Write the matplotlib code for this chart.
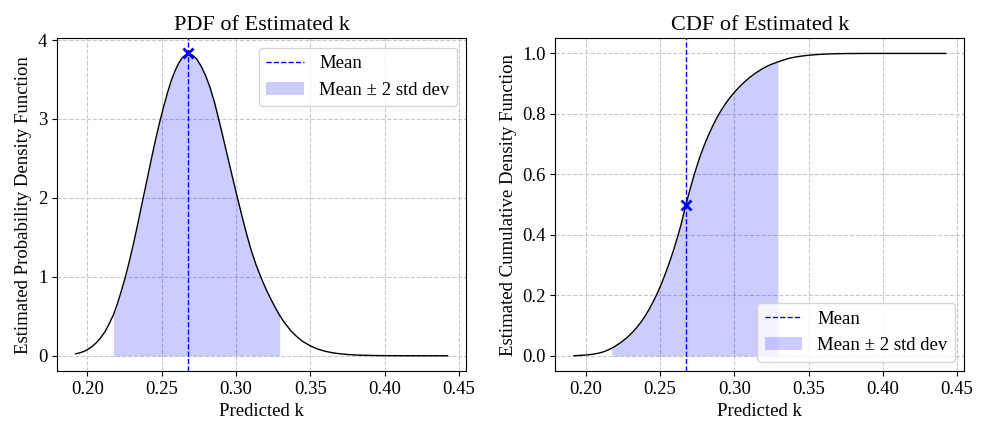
import numpy as np
import matplotlib
matplotlib.use("Agg")
import matplotlib.pyplot as plt

plt.rcParams["font.family"] = "serif"
plt.rcParams["font.serif"] = ["Liberation Serif", "DejaVu Serif"]

# values (same k grid for both curves)
k_grid = [0.1921, 0.195, 0.198, 0.200, 0.203, 0.206, 0.209, 0.212, 0.2145, 0.2175,
          0.2200, 0.2225, 0.2253, 0.2280, 0.2310, 0.2340, 0.2372, 0.2400, 0.2430, 0.2460,
          0.2489, 0.2515, 0.2540, 0.2565, 0.2590, 0.2615, 0.2640, 0.2675, 0.2705, 0.2735,
          0.2765, 0.2795, 0.2825, 0.2855, 0.2883, 0.2910, 0.2940, 0.2970, 0.3007, 0.3040,
          0.3070, 0.3100, 0.3135, 0.3175, 0.3210, 0.3250, 0.3294, 0.3330, 0.3370, 0.3410,
          0.3450, 0.3500, 0.3550, 0.3600, 0.3650, 0.3700, 0.3760, 0.3830, 0.3900, 0.4000,
          0.4100, 0.4250, 0.4423]
pdf_vals = [0.025, 0.038, 0.058, 0.078, 0.115, 0.165, 0.23, 0.31, 0.40, 0.52,
            0.65, 0.80, 0.98, 1.18, 1.42, 1.68, 1.97, 2.22, 2.49, 2.75,
            2.98, 3.17, 3.34, 3.49, 3.61, 3.71, 3.78, 3.83, 3.81, 3.76,
            3.67, 3.55, 3.40, 3.21, 3.00, 2.79, 2.55, 2.31, 2.02, 1.77,
            1.55, 1.35, 1.15, 0.96, 0.81, 0.66, 0.51, 0.41, 0.315, 0.24,
            0.18, 0.125, 0.085, 0.057, 0.038, 0.025, 0.015, 0.008, 0.0045, 0.002,
            0.001, 0.0003, 0.0]
cdf_vals = [0.000, 0.001, 0.0018, 0.0025, 0.004, 0.006, 0.009, 0.013, 0.018, 0.025,
            0.032, 0.040, 0.050, 0.061, 0.075, 0.091, 0.111, 0.131, 0.156, 0.184,
            0.214, 0.244, 0.276, 0.310, 0.347, 0.387, 0.430, 0.500, 0.555, 0.606,
            0.652, 0.692, 0.728, 0.760, 0.787, 0.810, 0.833, 0.853, 0.875, 0.892,
            0.906, 0.919, 0.932, 0.945, 0.955, 0.964, 0.972, 0.978, 0.984, 0.988,
            0.991, 0.994, 0.996, 0.9975, 0.9985, 0.9992, 0.9996, 0.9998, 1.000, 1.000,
            1.000, 1.000, 1.000]
k_mean = 0.2675
k_lo = 0.2175   # mean - 2 std
k_hi = 0.3294   # mean + 2 std
pdf_at_mean = 3.83
cdf_at_mean = 0.50

x = np.array(k_grid)
band = (x >= k_lo) & (x <= k_hi)

fig, axes = plt.subplots(1, 2, figsize=(9.84, 4.21), dpi=100)
fig.subplots_adjust(left=0.058, right=0.98, bottom=0.119, top=0.909, wspace=0.218)

panels = [
    (axes[0], pdf_vals, pdf_at_mean, "PDF of Estimated k",
     "Estimated Probability Density Function", "upper right"),
    (axes[1], cdf_vals, cdf_at_mean, "CDF of Estimated k",
     "Estimated Cumulative Density Function", "lower right"),
]

for ax, vals, y_mean, title, ylabel, loc in panels:
    y = np.array(vals)
    ax.fill_between(x, 0, y, where=band, color="blue", alpha=0.2, linewidth=0,
                    label="Mean \u00b1 2 std dev")
    ax.plot(x, y, color="k", linewidth=1.0)
    ax.axvline(k_mean, color="blue", linestyle="--", linewidth=1.0, label="Mean")
    ax.plot([k_mean], [y_mean], marker="x", color="blue", markersize=7, markeredgewidth=2)
    ax.grid(True, linestyle="--", color="#c8c8c8", linewidth=0.8)
    ax.set_axisbelow(True)
    ax.set_title(title, fontsize=16)
    ax.set_xlabel("Predicted k", fontsize=13.5)
    ax.set_ylabel(ylabel, fontsize=13.5)
    ax.tick_params(labelsize=13.5)
    ax.set_xticks([0.20, 0.25, 0.30, 0.35, 0.40, 0.45])
    handles, labels = ax.get_legend_handles_labels()
    order = [labels.index("Mean"), labels.index("Mean \u00b1 2 std dev")]
    ax.legend([handles[i] for i in order], [labels[i] for i in order],
              loc=loc, fontsize=13.5)

axes[0].set_yticks([0, 1, 2, 3, 4])
axes[1].set_yticks([0.0, 0.2, 0.4, 0.6, 0.8, 1.0])

fig.savefig("out.png", dpi=100)
